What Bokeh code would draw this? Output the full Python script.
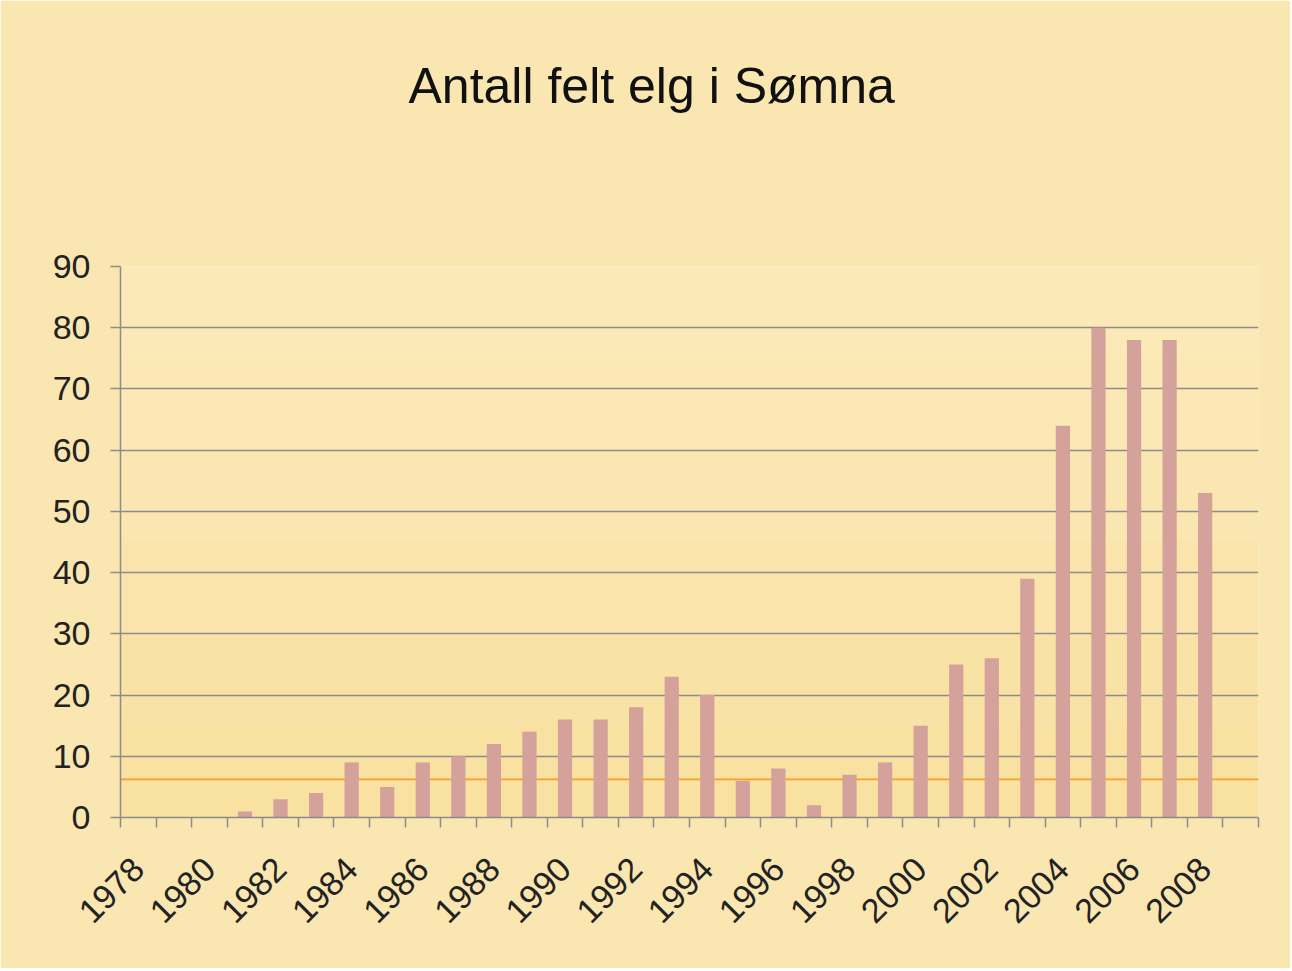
import math
from bokeh.plotting import figure
from bokeh.models import Range1d, FixedTicker, LinearAxis, BoxAnnotation, Title
from bokeh.embed import file_html
from bokeh.resources import INLINE

years = list(range(1978, 2009))
counts = [0, 0, 0, 1, 3, 4, 9, 5, 9, 10, 12, 14, 16, 16, 18, 23, 20, 6, 8, 2, 7, 9,
          15, 25, 26, 39, 64, 80, 78, 78, 53]
y_ticks = [0, 10, 20, 30, 40, 50, 60, 70, 80, 90]
x_label_years = list(range(1978, 2009, 2))
title_text = "Antall felt elg i Sømna"

W, H = 1290, 968
FONT = "Liberation Sans"
BG = "#fae6b0"

p = figure(width=W, height=H, output_backend="svg", toolbar_location=None,
           x_range=Range1d(1977.5, 2009.5), y_range=Range1d(0, 90),
           x_axis_type=None,
           min_border_left=120, min_border_right=32, min_border_top=266, min_border_bottom=151)
p.outline_line_color = None
p.background_fill_color = BG
p.border_fill_color = BG

# spacer panel between the frame and the title
p.add_layout(Title(text=" ", text_font=FONT, text_font_size="10px", standoff=140), "above")
# the chart title
p.add_layout(Title(text=title_text, align="left", offset=288, standoff=0,
                   text_font=FONT, text_font_size="50px", text_font_style="normal",
                   text_color="#111111"), "above")

# subtle vertical shading inside the frame (decoration)
shade = [("#fcecc0", 90, 75), ("#fbe9b9", 75, 60), ("#fae6b1", 60, 45),
         ("#f9e2a8", 45, 30), ("#f8df9f", 30, 15), ("#f7dc98", 15, 0)]
for c, top, bot in shade:
    p.add_layout(BoxAnnotation(top=top, bottom=bot, fill_color=c, fill_alpha=0.55,
                               line_color=None, level="image"))

orange = BoxAnnotation(bottom=6.1, top=6.35, fill_color="#f3a22a", fill_alpha=1,
                       line_color=None, level="image")
p.add_layout(orange)

p.vbar(x=years, top=counts, width=0.4, fill_color="#d4a19b", line_color=None)

yax = p.yaxis[0]
yax.ticker = FixedTicker(ticks=y_ticks)
yax.major_tick_in = 0
yax.major_tick_out = 10
yax.minor_tick_line_color = None
yax.axis_line_color = "#8c8c8c"
yax.major_tick_line_color = "#8c8c8c"
yax.axis_line_width = 1.5
yax.major_tick_line_width = 1.5
yax.major_label_standoff = 20
yax.major_label_text_font = FONT
yax.major_label_text_font_size = "34px"
yax.major_label_text_color = "#222222"

p.ygrid.ticker = FixedTicker(ticks=y_ticks)
p.ygrid.grid_line_color = "#8c8c8c"
p.ygrid.grid_line_width = 1.5

xax = LinearAxis(ticker=FixedTicker(ticks=x_label_years,
                                    minor_ticks=[y - 0.5 for y in range(1978, 2011)]))
xax.major_tick_line_color = None
xax.minor_tick_in = 0
xax.minor_tick_out = 10
xax.minor_tick_line_color = "#8c8c8c"
xax.minor_tick_line_width = 1.5
xax.axis_line_color = "#8c8c8c"
xax.axis_line_width = 1.5
xax.major_label_orientation = math.pi / 4
xax.major_label_standoff = 36
xax.major_label_text_font = FONT
xax.major_label_text_font_size = "34px"
xax.major_label_text_color = "#222222"
p.add_layout(xax, "below")

open("out.html", "w").write(file_html(p, INLINE))
